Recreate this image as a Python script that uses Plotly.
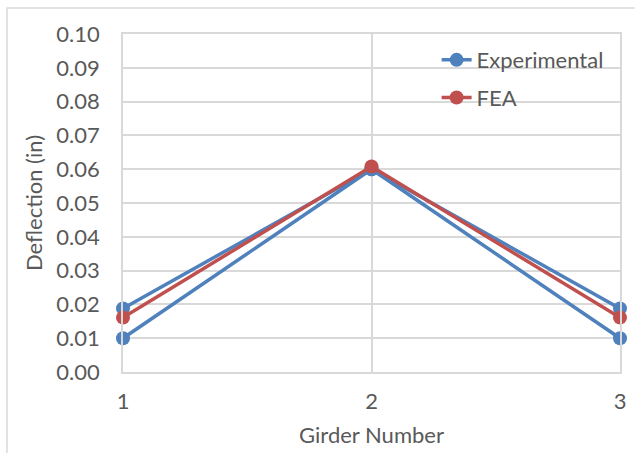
import plotly.graph_objects as go

girders = [1, 2, 3]
exp_upper = [0.0188, 0.0600, 0.0188]
exp_lower = [0.0100, 0.0600, 0.0100]
fea = [0.0161, 0.0608, 0.0161]
y_ticks = [0.00, 0.01, 0.02, 0.03, 0.04, 0.05, 0.06, 0.07, 0.08, 0.09, 0.10]
x_ticks = [1, 2, 3]

BLUE = "#4F81BD"
RED = "#C0504D"
GRID = "#d9d9d9"
TXT = "#595959"
FONT = "Lato"

fig = go.Figure()
fig.add_trace(go.Scatter(x=girders, y=exp_upper, mode="lines+markers", name="Experimental",
                         line=dict(color=BLUE, width=3.5), marker=dict(color=BLUE, size=14),
                         legendgroup="exp", cliponaxis=False))
fig.add_trace(go.Scatter(x=girders, y=exp_lower, mode="lines+markers", name="Experimental",
                         line=dict(color=BLUE, width=3.5), marker=dict(color=BLUE, size=14),
                         legendgroup="exp", showlegend=False, cliponaxis=False))
fig.add_trace(go.Scatter(x=girders, y=fea, mode="lines+markers", name="FEA",
                         line=dict(color=RED, width=3.5), marker=dict(color=RED, size=14),
                         legendgroup="fea", cliponaxis=False))

fig.update_layout(
    width=635, height=453,
    margin=dict(l=123, r=15, t=34, b=81, autoexpand=False),
    paper_bgcolor="white", plot_bgcolor="white",
    font=dict(family=FONT, size=22, color=TXT),
    showlegend=True,
    legend=dict(x=0.631, y=0.985, xanchor="left", yanchor="top",
                bgcolor="rgba(0,0,0,0)", font=dict(size=22, color=TXT),
                traceorder="grouped", tracegroupgap=6),
    xaxis=dict(range=[1, 3], tickvals=x_ticks, ticktext=[str(v) for v in x_ticks],
               showgrid=True, gridcolor=GRID, gridwidth=1.5, zeroline=False,
               showline=True, linecolor=GRID, linewidth=1.5, mirror=True,
               ticks="", ticklabelstandoff=9, automargin=False,
               title=dict(text="Girder Number", standoff=14, font=dict(size=22, color=TXT))),
    yaxis=dict(range=[0, 0.10], tickvals=y_ticks, ticktext=[f"{v:.2f}" for v in y_ticks],
               showgrid=True, gridcolor=GRID, gridwidth=1.5, zeroline=False,
               showline=True, linecolor=GRID, linewidth=1.5, mirror=True,
               ticks="", ticklabelstandoff=17, automargin=False,
               title=dict(text="Deflection (in)", standoff=8, font=dict(size=22, color=TXT))),
    shapes=[dict(type="rect", xref="paper", yref="paper",
                 x0=(7 - 123) / 497, x1=(645 - 123) / 497,
                 y0=(372 - 470) / 338, y1=(372 - 8) / 338,
                 line=dict(color=GRID, width=1.5), fillcolor="rgba(0,0,0,0)", layer="below")],
)

fig.write_html("out.html", config={"displayModeBar": False},
               post_script="document.body.style.margin='0px';document.body.style.overflow='hidden';")
